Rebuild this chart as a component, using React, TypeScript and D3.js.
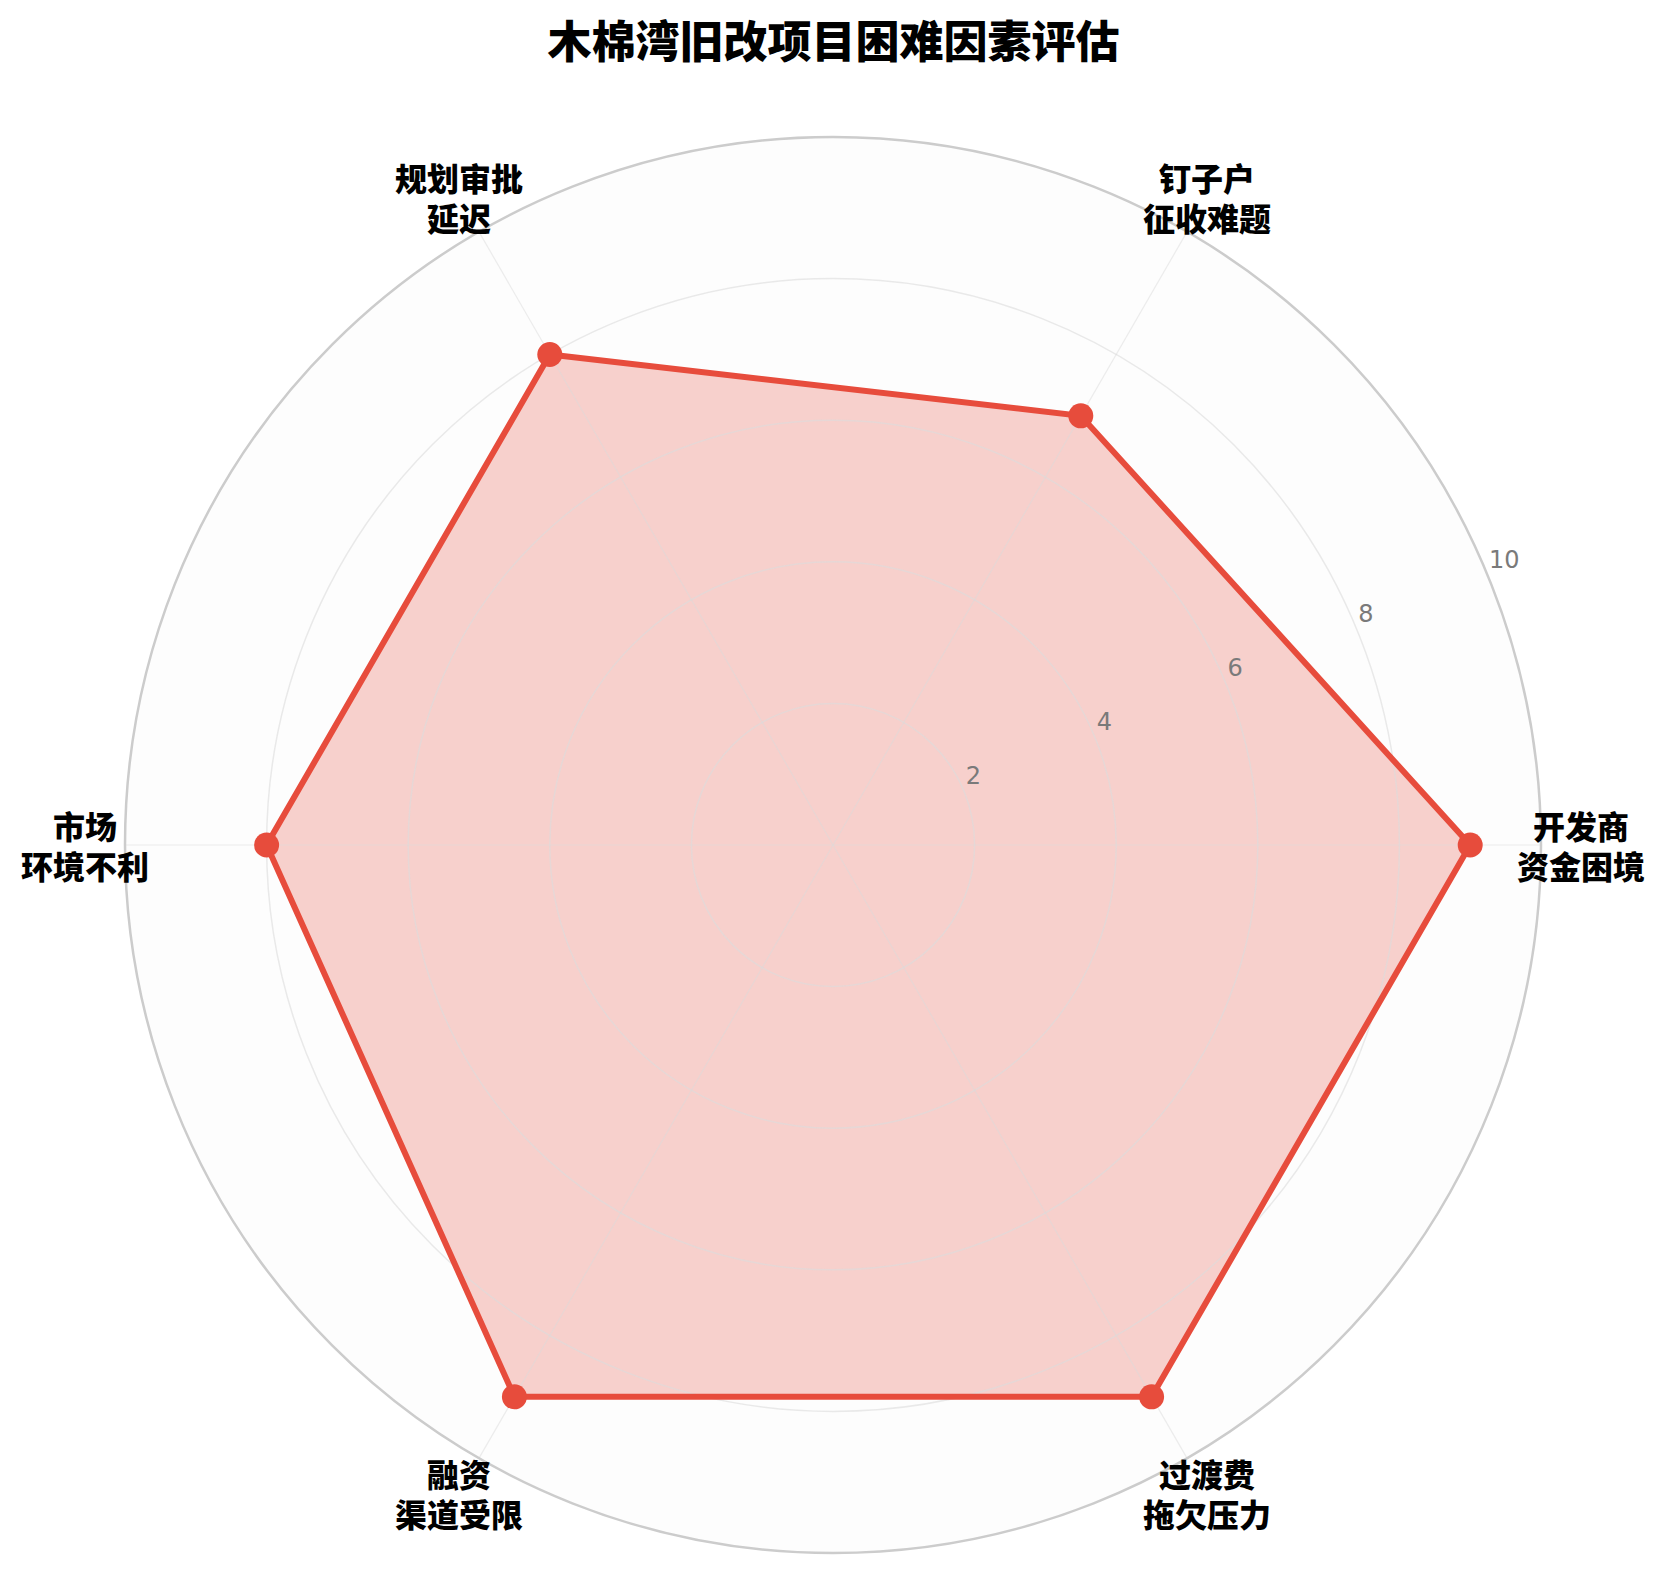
import React from "react";
import * as d3 from "d3";

const title = "木棉湾旧改项目困难因素评估";
const categories = [
  ["开发商", "资金困境"],
  ["钉子户", "征收难题"],
  ["规划审批", "延迟"],
  ["市场", "环境不利"],
  ["融资", "渠道受限"],
  ["过渡费", "拖欠压力"],
];
const values = [9, 7, 8, 8, 9, 9];
const radialTicks = [2, 4, 6, 8, 10];
const rMax = 10;

const W = 1667;
const H = 1573;
const cx = 833;
const cy = 845;
const R = 708;
const labelR = 748;
const color = "#e74c3c";

export default function App() {
  const r = d3.scaleLinear().domain([0, rMax]).range([0, R]);
  const angle = d3
    .scaleLinear()
    .domain([0, categories.length])
    .range([0, 2 * Math.PI]);
  const pt = (i: number, v: number): [number, number] => {
    const a = angle(i);
    return [cx + r(v) * Math.cos(a), cy - r(v) * Math.sin(a)];
  };
  const pts = values.map((v, i) => pt(i, v));
  const polyPath = d3.line().curve(d3.curveLinearClosed)(pts) || "";
  const rlabelAngle = (22.5 * Math.PI) / 180;

  return (
    <svg
      width={W}
      height={H}
      style={{ position: "absolute", left: 0, top: 0, background: "#fff" }}
    >
      <rect x={0} y={0} width={W} height={H} fill="#ffffff" />
      <circle cx={cx} cy={cy} r={R} fill="#fdfdfd" />
      <path d={polyPath} fill={color} fillOpacity={0.25} stroke="none" />
      {radialTicks
        .filter((t) => t < rMax)
        .map((t) => (
          <circle
            key={t}
            cx={cx}
            cy={cy}
            r={r(t)}
            fill="none"
            stroke="#dcdcdc"
            strokeOpacity={0.6}
            strokeWidth={1.5}
          />
        ))}
      {categories.map((_, i) => {
        const [x, y] = pt(i, rMax);
        return (
          <line
            key={i}
            x1={cx}
            y1={cy}
            x2={x}
            y2={y}
            stroke="#dcdcdc"
            strokeOpacity={0.5}
            strokeWidth={1.2}
          />
        );
      })}
      <circle cx={cx} cy={cy} r={R} fill="none" stroke="#cccccc" strokeWidth={2.5} />
      {radialTicks.map((t) => (
        <text
          key={t}
          x={cx + r(t) * Math.cos(rlabelAngle) + 2}
          y={cy - r(t) * Math.sin(rlabelAngle) - 13.5}
          fontFamily="DejaVu Sans"
          fontSize={24}
          fill="#7a7a7a"
          textAnchor="start"
          dominantBaseline="middle"
        >
          {t}
        </text>
      ))}
      <path
        d={polyPath}
        fill="none"
        stroke={color}
        strokeWidth={6}
        strokeLinejoin="miter"
      />
      {pts.map(([x, y], i) => (
        <circle key={i} cx={x} cy={y} r={12.5} fill={color} />
      ))}
      {categories.map((lines, i) => {
        const a = angle(i);
        const x = cx + labelR * Math.cos(a);
        const y = cy - labelR * Math.sin(a);
        const lh = 40;
        return (
          <g key={i}>
            {lines.map((l, j) => (
              <text
                key={j}
                x={x}
                y={y + (j - (lines.length - 1) / 2) * lh}
                fontFamily="'Noto Sans CJK SC'"
                fontWeight={900}
                fontSize={32}
                fill="#000"
                textAnchor="middle"
                dominantBaseline="central"
              >
                {l}
              </text>
            ))}
          </g>
        );
      })}
      <text
        x={W / 2}
        y={39}
        fontFamily="'Noto Sans CJK SC'"
        fontWeight={900}
        fontSize={44}
        fill="#000"
        textAnchor="middle"
        dominantBaseline="central"
      >
        {title}
      </text>
    </svg>
  );
}
